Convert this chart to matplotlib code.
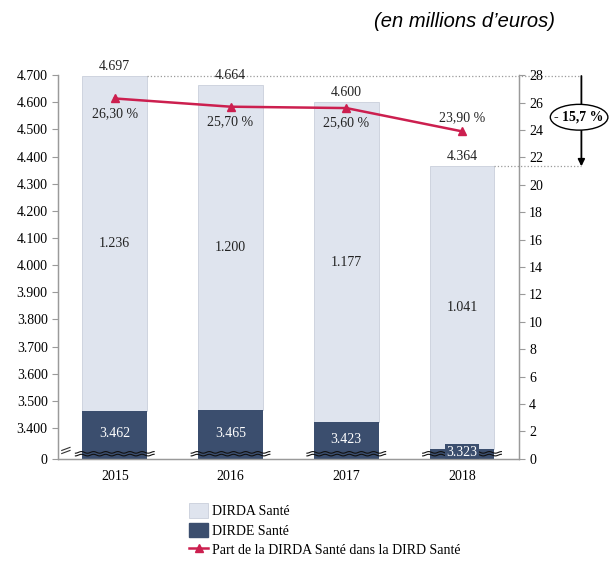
import numpy as np
import matplotlib
matplotlib.use('Agg')
import matplotlib.pyplot as plt
from matplotlib.patches import Patch, Ellipse
from matplotlib.lines import Line2D

years = ["2015", "2016", "2017", "2018"]
dirde = [3462, 3465, 3423, 3323]
dirda = [1236, 1200, 1177, 1041]
totals = [4697, 4664, 4600, 4364]
part = [26.30, 25.70, 25.60, 23.90]
left_ticks = [3400, 3500, 3600, 3700, 3800, 3900, 4000, 4100, 4200, 4300, 4400, 4500, 4600, 4700]
right_ticks = [0, 2, 4, 6, 8, 10, 12, 14, 16, 18, 20, 22, 24, 26, 28]
variation = "- 15,7 %"

dark = "#3b4e6e"
light = "#dfe4ee"
red = "#cc1f4f"
grey = "#9a9a9a"
serif = "Liberation Serif"
base = 3286

def fmt(v):
    return f"{v:,}".replace(",", ".")

def fmtp(v):
    return f"{v:.2f}".replace(".", ",") + " %"

fig = plt.figure(figsize=(6.11, 5.61), dpi=100)
ax = fig.add_axes([0.095, 0.182, 0.754, 0.684])
ax2 = ax.twinx()

x = np.arange(len(years))
w = 0.56
xmin, xmax = -0.49, 3.49
ax.bar(x, np.array(dirde) - base, w, bottom=base, color=dark, zorder=2)
ax.bar(x, np.array(totals) - np.array(dirde), w, bottom=dirde, color=light,
       edgecolor="#c9cfdb", linewidth=0.6, zorder=1)
ax.set_xlim(xmin, xmax)
ax.set_ylim(base, 4700)

# labels
for i in range(len(years)):
    ax.text(x[i], totals[i] + 12, fmt(totals[i]), ha="center", va="bottom",
            family=serif, fontsize=10, color="#222222")
    ax.text(x[i], (totals[i] + dirde[i]) / 2, fmt(dirda[i]), ha="center",
            va="center", family=serif, fontsize=10, color="#222222")
    if i < 3:
        ax.text(x[i], (dirde[i] + base) / 2 + 4, fmt(dirde[i]), ha="center",
                va="center", family=serif, fontsize=10, color="white", zorder=5)
    else:
        ax.text(x[i], base + 25, fmt(dirde[i]), ha="center", va="center",
                family=serif, fontsize=10, color="white", zorder=5,
                bbox=dict(boxstyle="square,pad=0.12", fc=dark, ec="none"))

# axis break waves
xs = np.linspace(-w / 2 - 0.06, w / 2 + 0.06, 80)
for i in range(len(years)):
    for off in (14, 24):
        ax.plot(x[i] + xs, base + off + 3 * np.sin(xs * 60), color="#111111",
                lw=0.8, zorder=4, clip_on=False)
for off in (0.014, 0.022):
    ax.plot([0.008, 0.026], [off, off + 0.008], transform=ax.transAxes,
            color="#333333", lw=0.8, clip_on=False)

ax.set_xticks(x)
ax.set_xticklabels(years, family=serif, fontsize=10)
ax.set_yticks([base] + left_ticks)
ax.set_yticklabels(["0"] + [fmt(t) for t in left_ticks], family=serif, fontsize=10)
ax.tick_params(axis="x", length=0, pad=8)
ax.tick_params(axis="y", length=4, color=grey, width=0.8)

# line on right axis
ax2.plot(x, part, color=red, lw=1.8, marker="^", markersize=6, zorder=6)
ax2.set_ylim(0, 28)
ax2.set_yticks(right_ticks)
ax2.set_yticklabels([str(t) for t in right_ticks], family=serif, fontsize=10)
ax2.tick_params(axis="y", length=4, color=grey, width=0.8)
for i in range(len(years)):
    if i < 3:
        ax2.text(x[i], part[i] - 0.6, fmtp(part[i]), ha="center", va="top",
                 family=serif, fontsize=10, color="#222222")
    else:
        ax2.text(x[i], part[i] + 0.55, fmtp(part[i]), ha="center", va="bottom",
                 family=serif, fontsize=10, color="#222222")

for a in (ax, ax2):
    a.spines["top"].set_visible(False)
    for s in ("left", "right", "bottom"):
        a.spines[s].set_color(grey)
        a.spines[s].set_linewidth(0.9)

# variation marker
xr = 1.136
trans = ax.get_yaxis_transform()
for i in (0, 3):
    ax.plot([(x[i] + w / 2 - xmin) / (xmax - xmin), xr], [totals[i], totals[i]],
            ls=":", color=grey, lw=0.9, transform=trans, clip_on=False)
ax.annotate("", xy=(xr, totals[3]), xytext=(xr, totals[0]), xycoords=trans,
            textcoords=trans,
            arrowprops=dict(arrowstyle="-|>", color="black", lw=1.3,
                            mutation_scale=10, shrinkA=0, shrinkB=0))
ax.add_patch(Ellipse((xr - 0.005, 4545), 0.125, 95, transform=trans, fc="white",
                     ec="black", lw=1.0, clip_on=False, zorder=7))
ax.text(xr - 0.005, 4545, variation, transform=trans, ha="center", va="center",
        family=serif, fontsize=10, fontweight="bold", zorder=8)

fig.text(0.908, 0.962, "(en millions d\u2019euros)", ha="right", va="center",
         family="Liberation Sans", style="italic", fontsize=14.5)

handles = [Patch(fc=light, ec="#c9cfdb", lw=0.6),
           Patch(fc=dark, ec=dark),
           Line2D([], [], color=red, lw=1.8, marker="^", markersize=6)]
labels = ["DIRDA Sant\u00e9", "DIRDE Sant\u00e9",
          "Part de la DIRDA Sant\u00e9 dans la DIRD Sant\u00e9"]
fig.legend(handles, labels, loc="upper left", bbox_to_anchor=(0.3, 0.113),
           frameon=False, prop={"family": serif, "size": 10},
           handlelength=1.4, handleheight=1.25, labelspacing=0.33,
           handletextpad=0.3, borderaxespad=0)

plt.savefig("out.png", dpi=100)
plt.close()
